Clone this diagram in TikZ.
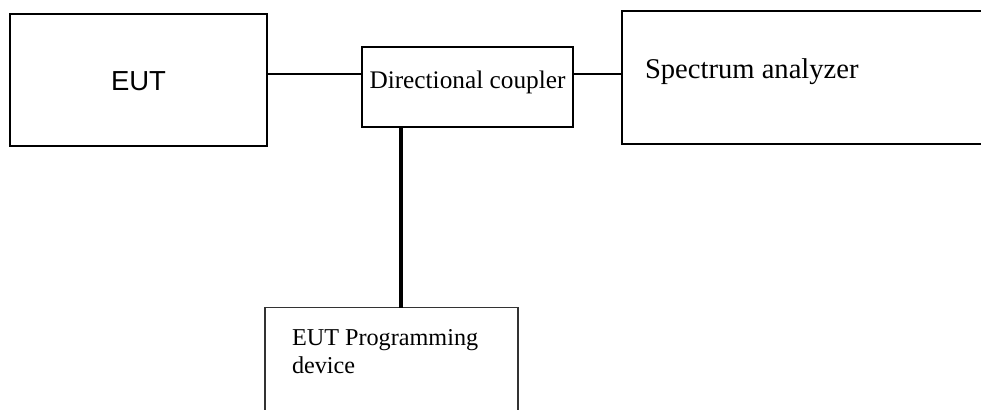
\documentclass[tikz,border=0pt]{standalone}
\usepackage{fontspec}
\setmainfont{Liberation Serif}
\newfontfamily\arialfont{Liberation Sans}
\begin{document}
\begin{tikzpicture}[x=1pt,y=-1pt,
  box/.style={draw, line width=2pt, inner sep=0pt, outer sep=0pt},
  thinbox/.style={draw=black!80, line width=1.5pt, inner sep=0pt, outer sep=0pt},
  conn/.style={line width=2pt},
  thickconn/.style={line width=4pt},
  txt/.style={inner sep=0pt, outer sep=0pt}]
\useasboundingbox (0,0) rectangle (981,409);
% boxes
\node[box, minimum width=257pt, minimum height=132pt] (eut) at (138.5,80) {};
\node[box, minimum width=211pt, minimum height=80pt] (dc) at (467.5,87) {};
\node[box, minimum width=400pt, minimum height=133pt] (sa) at (822,77.5) {};
\node[thinbox, minimum width=253pt, minimum height=122pt] (prog) at (391.5,368.5) {};
% texts
\node[txt, anchor=base, font=\arialfont\fontsize{27.5}{30}\selectfont] (eutt) at (138.5,91) {EUT};
\node[txt, anchor=base, font=\fontsize{25.3}{28}\selectfont] (dct) at (467.5,89) {Directional coupler};
\node[txt, anchor=base west, font=\fontsize{28.6}{32}\selectfont] (sat) at (645,79) {Spectrum analyzer};
\node[txt, anchor=base west, font=\fontsize{24.2}{28}\selectfont] (progt1) at (292,345) {EUT Programming};
\node[txt, anchor=base west, font=\fontsize{24.2}{28}\selectfont] (progt2) at (292,373) {device};
% connectors
\coordinate (a1) at (eut.east |- 0,74);
\coordinate (a2) at (dc.west |- 0,74);
\coordinate (b1) at (dc.east |- 0,74);
\coordinate (b2) at (sa.west |- 0,74);
\coordinate (c1) at (401,0 |- dc.south);
\coordinate (c2) at (401,0 |- prog.north);
\draw[conn] (a1) -- (a2);
\draw[conn] (b1) -- (b2);
\draw[thickconn] (dc.south -| c1) -- (prog.north -| c1);
\end{tikzpicture}
\end{document}
